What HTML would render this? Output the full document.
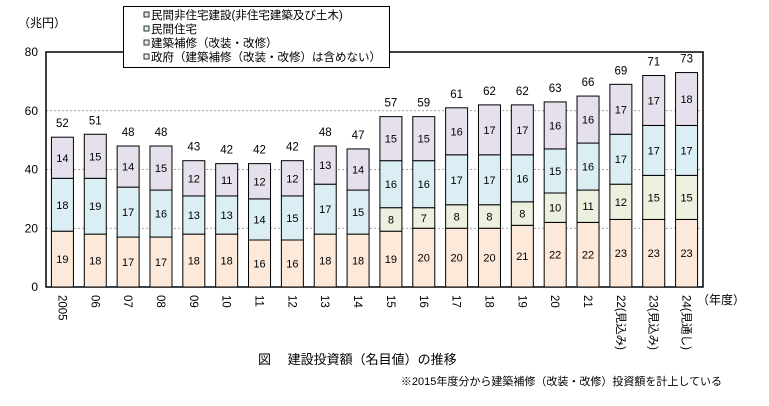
<!DOCTYPE html>
<html><head><meta charset="utf-8"><style>
body{margin:0;background:#fff;}
svg text{font-family:"Liberation Sans","Noto Sans CJK JP",sans-serif;}
</style></head><body>
<svg width="769" height="401" viewBox="0 0 769 401">
<g id="plot"></g>
<text x="18" y="27" font-size="12">（兆円）</text>
<g>
<rect x="123.5" y="6.5" width="266" height="61" fill="#fff" stroke="#000"/>
<g font-size="11.5">
<rect x="144" y="12" width="5" height="5" fill="#e5e0ec" stroke="#000" stroke-width="0.8"/><text x="151" y="19">民間非住宅建設(非住宅建築及び土木)</text>
<rect x="144" y="26" width="5" height="5" fill="#dbeef4" stroke="#000" stroke-width="0.8"/><text x="151" y="33">民間住宅</text>
<rect x="144" y="40" width="5" height="5" fill="#ebf1de" stroke="#000" stroke-width="0.8"/><text x="151" y="47">建築補修（改装・改修）</text>
<rect x="144" y="54" width="5" height="5" fill="#fde9d9" stroke="#000" stroke-width="0.8"/><text x="151" y="61">政府（建築補修（改装・改修）は含めない）</text>
</g></g>
<text x="697" y="304" font-size="12">（年度）</text>
<text x="258" y="364" font-size="13">図　 建設投資額（名目値）の推移</text>
<text x="722" y="385" font-size="11" text-anchor="end">※2015年度分から建築補修（改装・改修）投資額を計上している</text>
</svg>
<script>
const categories=["2005","06","07","08","09","10","11","12","13","14","15","16","17","18","19","20","21","22(見込み)","23(見込み)","24(見通し)"];
const government=[19,18,17,17,18,18,16,16,18,18,19,20,20,20,21,22,22,23,23,23];
const repair=[0,0,0,0,0,0,0,0,0,0,8,7,8,8,8,10,11,12,15,15];
const residential=[18,19,17,16,13,13,14,15,17,15,16,16,17,17,16,15,16,17,17,17];
const nonresidential=[14,15,14,15,12,11,12,12,13,14,15,15,16,17,17,16,16,17,17,18];
const totals=[52,51,48,48,43,42,42,42,48,47,57,59,61,62,62,63,66,69,71,73];
const yTicks=[0,20,40,60,80];

const NS="http://www.w3.org/2000/svg";
const g=document.getElementById('plot');
const X0=46,X1=703,Y0=287,Y80=52;
const y=v=>Y0-(v/80)*(Y0-Y80);
const step=(X1-X0)/categories.length;
const cx=i=>X0+step*(i+0.5);
const BW=22;
function el(t,a,p){const e=document.createElementNS(NS,t);for(const k in a)e.setAttribute(k,a[k]);(p||g).appendChild(e);return e;}
yTicks.forEach(t=>{
  if(t>0&&t<80){const l=el('line',{x1:X0,x2:X1,y1:y(t),y2:y(t),stroke:'#888','stroke-dasharray':'2,2','stroke-width':0.8});
  
  }
  const tx=el('text',{x:X0-8,y:y(t)+4,'font-size':12,'text-anchor':'end'});tx.textContent=t;
  
  
});
const frame=el('rect',{x:X0,y:Y80,width:X1-X0,height:Y0-Y80,fill:'none',stroke:'#000','stroke-width':1.5});


const series=[[government,'#fde9d9','government'],[repair,'#ebf1de','repair'],[residential,'#dbeef4','residential'],[nonresidential,'#e5e0ec','nonresidential']];
categories.forEach((c,i)=>{
  let base=0;
  series.forEach(([arr,col,name])=>{
    const v=arr[i];if(!v)return;
    const r=el('rect',{x:cx(i)-BW/2,y:y(base+v),width:BW,height:y(base)-y(base+v),fill:col,stroke:'#000','stroke-width':1});
    
    
    const t=el('text',{x:cx(i),y:(y(base)+y(base+v))/2+4,'font-size':11,'text-anchor':'middle'});t.textContent=v;
    
    
    base+=v;
  });
  const tt=el('text',{x:cx(i),y:y(base)-10,'font-size':11.5,'text-anchor':'middle'});tt.textContent=totals[i];
  
  
  const xl=el('text',{x:0,y:0,'font-size':11.5,transform:`translate(${cx(i)-4},295) rotate(90)`});xl.textContent=c;
  
  
});
</script>
</body></html>
